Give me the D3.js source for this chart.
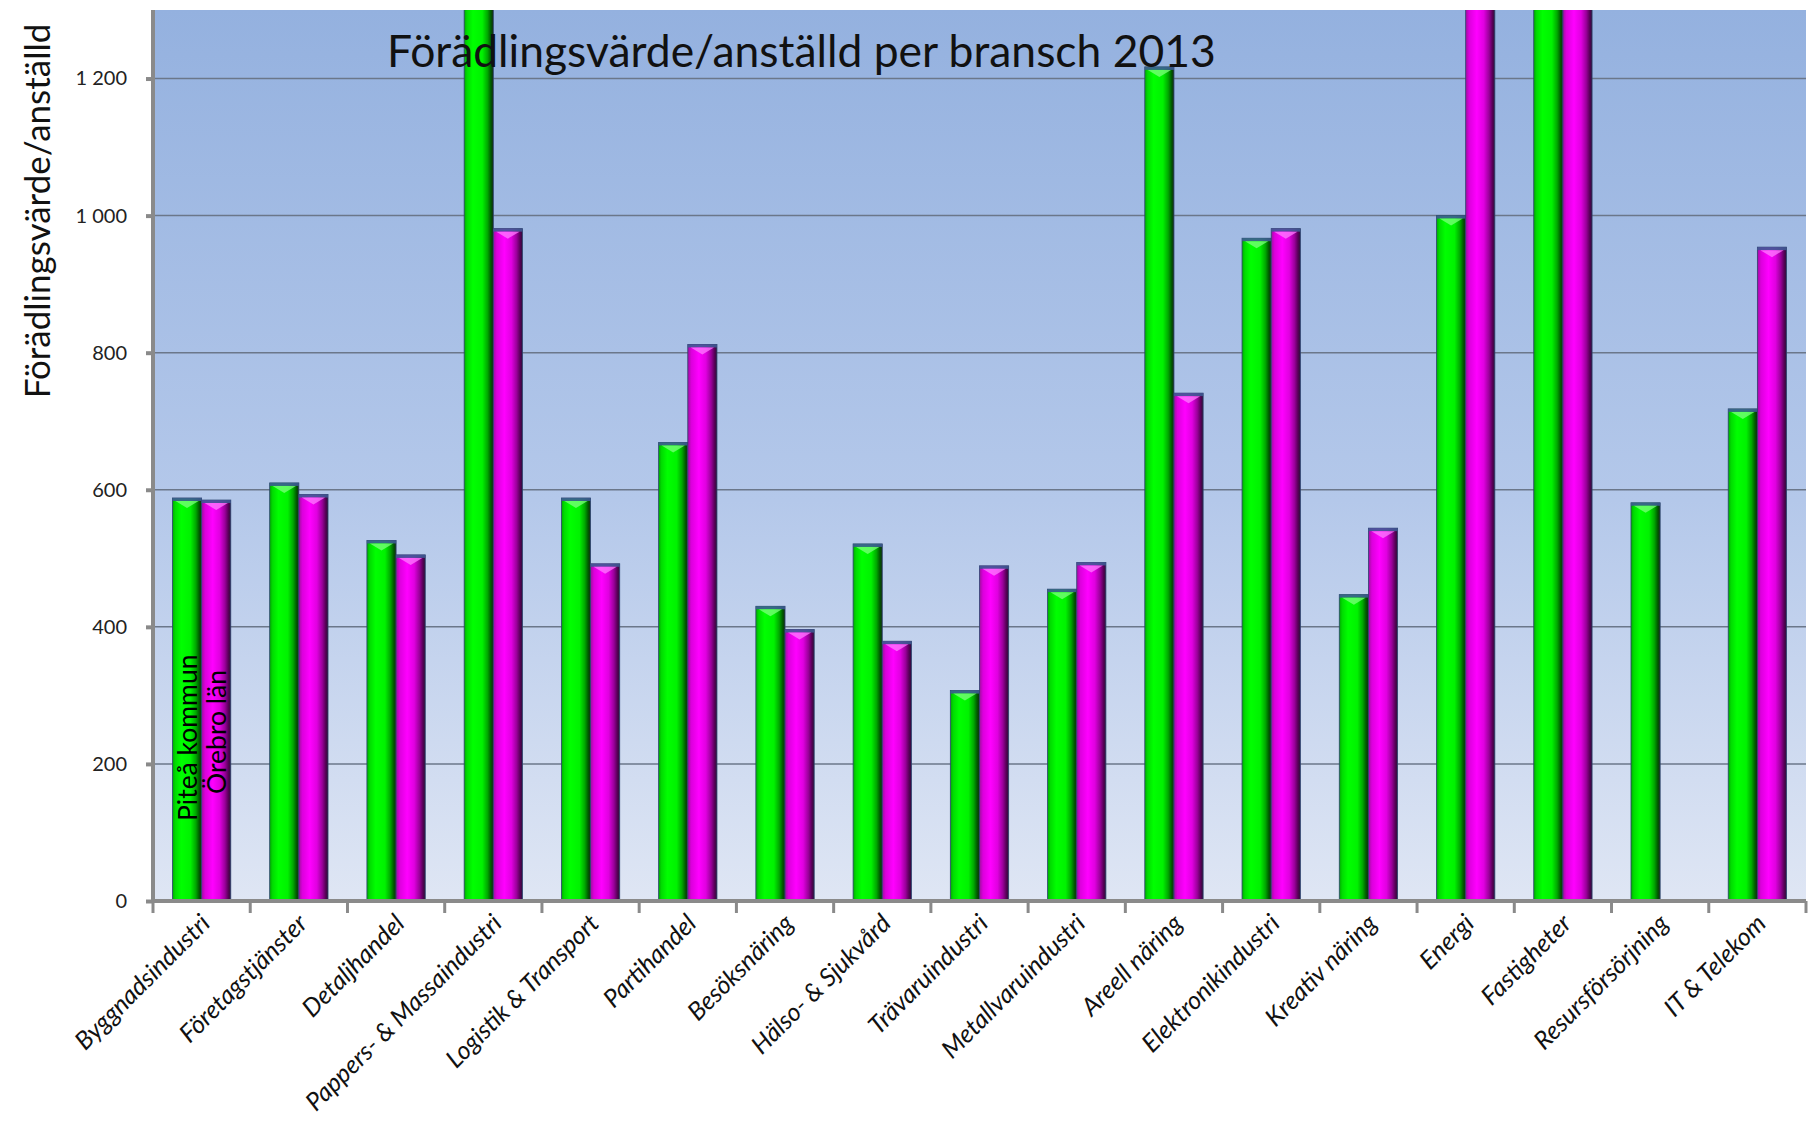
<!DOCTYPE html>
<html>
<head>
<meta charset="utf-8">
<script src="https://cdn.jsdelivr.net/npm/d3@7"></script>
<style>
  html, body { margin: 0; padding: 0; background: #ffffff; }
  svg { display: block; }
</style>
</head>
<body>
<svg id="chart" width="1812" height="1131"></svg>
<script>
const categories = ["Byggnadsindustri", "Företagstjänster", "Detaljhandel", "Pappers- & Massaindustri",
  "Logistik & Transport", "Partihandel", "Besöksnäring", "Hälso- & Sjukvård", "Trävaruindustri",
  "Metallvaruindustri", "Areell näring", "Elektronikindustri", "Kreativ näring", "Energi",
  "Fastigheter", "Resursförsörjning", "IT & Telekom"];
const seriesNames = ["Piteå kommun", "Örebro län"];
const piteaValues = [588, 610, 526, 1650, 588, 669, 430, 521, 307, 455, 1217, 967, 447, 1000, 2400, 581, 718];
const orebroValues = [585, 593, 505, 981, 492, 812, 396, 379, 489, 494, 741, 981, 544, 1450, 1900, null, 954];
const yTickValues = [0, 200, 400, 600, 800, 1000, 1200];
const yMax = 1300;
const chartTitle = "Förädlingsvärde/anställd per bransch 2013";
const yAxisTitle = "Förädlingsvärde/anställd";

const W = 1812, H = 1131;
const margin = { left: 153, right: 6, top: 10, bottom: 230 };
const plotW = W - margin.left - margin.right;
const plotH = H - margin.top - margin.bottom;
const FONT = "Lato, 'Open Sans', 'Noto Sans', sans-serif";

const svg = d3.select("#chart");
const defs = svg.append("defs");

// background gradient
const bg = defs.append("linearGradient").attr("id", "bgGrad")
  .attr("x1", 0).attr("y1", 0).attr("x2", 0).attr("y2", 1);
bg.append("stop").attr("offset", "0%").attr("stop-color", "#94b1df");
bg.append("stop").attr("offset", "55%").attr("stop-color", "#b4c8ea");
bg.append("stop").attr("offset", "100%").attr("stop-color", "#dfe6f4");

function barGrad(id, stops) {
  const g = defs.append("linearGradient").attr("id", id)
    .attr("x1", 0).attr("y1", 0).attr("x2", 1).attr("y2", 0);
  stops.forEach(s => g.append("stop").attr("offset", s[0]).attr("stop-color", s[1]));
}
barGrad("gGreen", [["0%", "#02a802"], ["10%", "#00dc00"], ["30%", "#00ff00"], ["62%", "#00f200"], ["80%", "#00a800"], ["92%", "#005800"], ["100%", "#162a16"]]);
barGrad("gMag", [["0%", "#9c109c"], ["12%", "#dc00dc"], ["38%", "#ff00ff"], ["62%", "#e000e0"], ["80%", "#9a009a"], ["92%", "#560056"], ["100%", "#2a1238"]]);

defs.append("clipPath").attr("id", "plotClip")
  .append("rect").attr("x", 0).attr("y", 0).attr("width", plotW).attr("height", plotH);

const g = svg.append("g").attr("transform", `translate(${margin.left},${margin.top})`);

const x0 = d3.scaleBand().domain(categories).range([0, plotW]).paddingInner(0).paddingOuter(0);
const x1 = d3.scaleBand().domain(seriesNames).range([0, x0.bandwidth()]).paddingInner(0).paddingOuter(0.667);
const y = d3.scaleLinear().domain([0, yMax]).range([plotH, 0]);

g.append("rect").attr("x", 0).attr("y", 0).attr("width", plotW).attr("height", plotH).attr("fill", "url(#bgGrad)");

// gridlines
g.append("g").selectAll("line").data(yTickValues.filter(v => v > 0)).join("line")
  .attr("x1", 0).attr("x2", plotW)
  .attr("y1", d => y(d)).attr("y2", d => y(d))
  .attr("stroke", "#6b778a").attr("stroke-width", 1.5);

// bars
const rows = categories.map((c, i) => ({ cat: c, vals: [piteaValues[i], orebroValues[i]] }));
const barLayer = g.append("g").attr("clip-path", "url(#plotClip)");
const fills = ["url(#gGreen)", "url(#gMag)"];
const caps = ["#7dff7d", "#ff7dff"];
rows.forEach(r => {
  r.vals.forEach((v, j) => {
    if (v == null) return;
    const bx = x0(r.cat) + x1(seriesNames[j]);
    const bw = x1.bandwidth();
    const top = y(v);
    barLayer.append("rect")
      .attr("x", bx).attr("y", top).attr("width", bw).attr("height", plotH - top)
      .attr("fill", fills[j]).attr("stroke", "#2d4470").attr("stroke-width", 0.8);
    barLayer.append("rect")
      .attr("x", bx).attr("y", top).attr("width", bw).attr("height", 3)
      .attr("fill", "#3d5a94").attr("opacity", 0.9);
    barLayer.append("path")
      .attr("d", `M${bx + 3},${top + 3} L${bx + bw - 3},${top + 3} L${bx + bw / 2},${top + 10} Z`)
      .attr("fill", caps[j]).attr("opacity", 0.75);
  });
});

// legend-like labels inside first group
const first = categories[0];
const labelOffsets = [80, 107];
seriesNames.forEach((s, j) => {
  const cx = margin.left + x0(first) + x1(s) + x1.bandwidth() / 2;
  const sy = margin.top + plotH - labelOffsets[j];
  svg.append("text")
    .attr("transform", `translate(${cx},${sy}) rotate(-90)`)
    .attr("dy", "0.36em")
    .attr("font-family", FONT).attr("font-size", 26.5)
    .attr("fill", "#000")
    .text(s);
});

// axes
const axisColor = "#8a8a8a";
// y-axis
const yAxis = g.append("g").call(d3.axisLeft(y).tickValues(yTickValues).tickSize(7).tickPadding(19)
  .tickFormat(d => d3.format(",")(d).replace(/,/g, " ")));
yAxis.select(".domain").remove();
yAxis.selectAll(".tick line").attr("stroke", axisColor).attr("stroke-width", 4);
yAxis.selectAll(".tick text").attr("font-family", FONT).attr("font-size", 20).attr("fill", "#222");
g.append("line").attr("x1", 0).attr("x2", 0).attr("y1", 0).attr("y2", plotH + 2)
  .attr("stroke", axisColor).attr("stroke-width", 4);

// x-axis
g.append("line").attr("x1", -2).attr("x2", plotW).attr("y1", plotH).attr("y2", plotH)
  .attr("stroke", axisColor).attr("stroke-width", 4);
const boundaries = categories.map(c => x0(c)).concat([plotW]);
g.append("g").selectAll("line").data(boundaries).join("line")
  .attr("x1", d => d).attr("x2", d => d).attr("y1", plotH).attr("y2", plotH + 12)
  .attr("stroke", axisColor).attr("stroke-width", 3);

g.append("g").selectAll("text").data(categories).join("text")
  .attr("transform", d => `translate(${x0(d) + x0.bandwidth() / 2 + 10},${plotH + 24}) rotate(-45)`)
  .attr("text-anchor", "end")
  .attr("font-family", FONT).attr("font-style", "italic").attr("font-size", 25)
  .attr("fill", "#111")
  .text(d => d);

// title
const title = svg.append("text")
  .attr("x", 387).attr("y", 67)
  .attr("font-family", FONT).attr("font-size", 40).attr("fill", "#111")
  .text(chartTitle);
const tw = title.node().getComputedTextLength();
title.attr("font-size", 40 * 829 / tw);

// y-axis title
svg.append("text")
  .attr("transform", `translate(50,211) rotate(-90)`)
  .attr("text-anchor", "middle")
  .attr("font-family", FONT).attr("font-size", 35).attr("fill", "#111")
  .text(yAxisTitle);
</script>
</body>
</html>
